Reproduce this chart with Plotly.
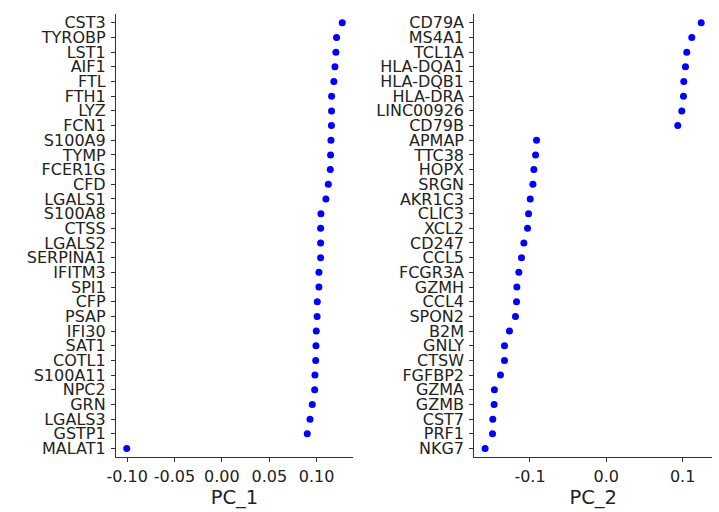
import plotly.graph_objects as go

pc1_genes = ["CST3", "TYROBP", "LST1", "AIF1", "FTL", "FTH1", "LYZ", "FCN1", "S100A9", "TYMP",
             "FCER1G", "CFD", "LGALS1", "S100A8", "CTSS", "LGALS2", "SERPINA1", "IFITM3", "SPI1", "CFP",
             "PSAP", "IFI30", "SAT1", "COTL1", "S100A11", "NPC2", "GRN", "LGALS3", "GSTP1", "MALAT1"]
pc1_vals = [0.1270, 0.1210, 0.1203, 0.1193, 0.1182, 0.1158, 0.1157, 0.1156, 0.1151, 0.1147,
            0.1144, 0.1123, 0.1098, 0.1045, 0.1042, 0.1042, 0.1042, 0.1024, 0.1024, 0.1007,
            0.1005, 0.0996, 0.0993, 0.0990, 0.0982, 0.0979, 0.0954, 0.0930, 0.0901, -0.1004]

pc2_genes = ["CD79A", "MS4A1", "TCL1A", "HLA-DQA1", "HLA-DQB1", "HLA-DRA", "LINC00926", "CD79B", "APMAP", "TTC38",
             "HOPX", "SRGN", "AKR1C3", "CLIC3", "XCL2", "CD247", "CCL5", "FCGR3A", "GZMH", "CCL4",
             "SPON2", "B2M", "GNLY", "CTSW", "FGFBP2", "GZMA", "GZMB", "CST7", "PRF1", "NKG7"]
pc2_vals = [0.1243, 0.1120, 0.1054, 0.1037, 0.1015, 0.1011, 0.0989, 0.0936, -0.0914, -0.0927,
            -0.0949, -0.0962, -0.0997, -0.1019, -0.1032, -0.1080, -0.1111, -0.1146, -0.1172, -0.1176,
            -0.1190, -0.1269, -0.1334, -0.1334, -0.1387, -0.1466, -0.1470, -0.1487, -0.1491, -0.1588]

pc1_ticks = [-0.10, -0.05, 0.00, 0.05, 0.10]
pc1_ticktext = ["-0.10", "-0.05", "0.00", "0.05", "0.10"]
pc2_ticks = [-0.1, 0.0, 0.1]
pc2_ticktext = ["-0.1", "0.0", "0.1"]
titles = ["PC_1", "PC_2"]

FONT = "DejaVu Sans"
TXT = "#222222"
LINE = "#333333"

fig = go.Figure()
fig.add_trace(go.Scatter(x=pc1_vals, y=pc1_genes, mode="markers",
                         marker=dict(color="#0000FF", size=7), xaxis="x", yaxis="y", showlegend=False))
fig.add_trace(go.Scatter(x=pc2_vals, y=pc2_genes, mode="markers",
                         marker=dict(color="#0000FF", size=7), xaxis="x2", yaxis="y2", showlegend=False))


def xr(vals):
    lo, hi = min(vals), max(vals)
    e = (hi - lo) * 0.05
    return [lo - e, hi + e]


ydom = [1 - 457.3 / 512, 1 - 14 / 512]
common_x = dict(showgrid=False, zeroline=False, showline=True, linecolor=LINE, linewidth=1.2,
                ticks="outside", ticklen=4, tickcolor=LINE, tickfont=dict(family=FONT, size=16, color=TXT),
                title_font=dict(family=FONT, size=19.5, color=TXT), title_standoff=4, automargin=False)
common_y = dict(showgrid=False, zeroline=False, showline=True, linecolor=LINE, linewidth=1.2,
                ticks="outside", ticklen=4, tickcolor=LINE, tickfont=dict(family=FONT, size=16, color=TXT),
                range=[-0.6, 29.6], type="category", tickmode="array", ticklabelstandoff=2, automargin=False)

fig.update_layout(
    width=719, height=512, margin=dict(l=0, r=0, t=0, b=0, autoexpand=False),
    paper_bgcolor="white", plot_bgcolor="white",
    xaxis=dict(domain=[116 / 719, 353 / 719], anchor="y", range=xr(pc1_vals),
               tickvals=pc1_ticks, ticktext=pc1_ticktext, title_text=titles[0], **common_x),
    yaxis=dict(domain=ydom, anchor="x", categoryorder="array", categoryarray=pc1_genes[::-1],
               tickvals=pc1_genes, ticktext=pc1_genes, **common_y),
    xaxis2=dict(domain=[474.3 / 719, 712 / 719], anchor="y2", range=xr(pc2_vals),
                tickvals=pc2_ticks, ticktext=pc2_ticktext, title_text=titles[1], **common_x),
    yaxis2=dict(domain=ydom, anchor="x2", categoryorder="array", categoryarray=pc2_genes[::-1],
                tickvals=pc2_genes, ticktext=pc2_genes, **common_y),
)

fig.write_html("out.html")
